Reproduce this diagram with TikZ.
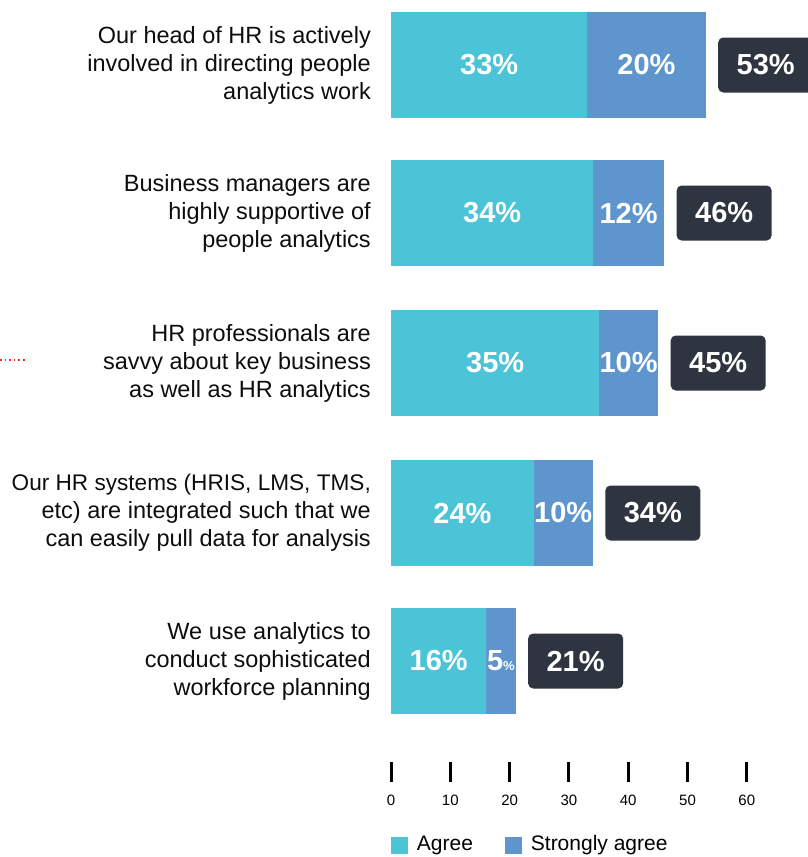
\documentclass[tikz,border=0pt]{standalone}
\usepackage{fontspec}
\setmainfont{Liberation Sans}
\usetikzlibrary{positioning}

\definecolor{agreecol}{RGB}{75,196,215}
\definecolor{strongcol}{RGB}{93,149,204}
\definecolor{totalcol}{RGB}{46,52,64}

\tikzset{
  bar/.style={inner sep=0pt, minimum height=106pt, text=white,
    align=center, font=\fontsize{29}{29}\selectfont\bfseries},
  totalbox/.style={fill=totalcol, rounded corners=5pt, inner sep=0pt,
    minimum width=95pt, minimum height=55pt, text=white,
    font=\fontsize{29}{29}\selectfont\bfseries},
  question/.style={inner sep=0pt, align=right, text=black!95,
    font=\fontsize{23.5}{28}\selectfont},
  legendsq/.style={inner sep=0pt, minimum size=17pt},
}

\begin{document}
\begin{tikzpicture}[x=1pt,y=-1pt]
\useasboundingbox (0,0) rectangle (807,857);

% bars
\foreach \i/\c/\a/\s/\at/\st/\q in {
 1/65/33/20/{33\%}/{20\%}/{Our head of HR is actively\\involved in directing people\\analytics work},
 2/213/34/12/{34\%}/{12\%}/{Business managers are\\highly supportive of\\people analytics},
 3/363/35/10/{35\%}/{10\%}/{HR professionals are\\savvy about key business\\as well as HR analytics},
 4/513/24/10/{24\%}/{10\%}/{\fontsize{22.6}{28}\selectfont Our HR systems (HRIS, LMS, TMS,\\etc) are integrated such that we\\can easily pull data for analysis},
 5/661/16/5/{16\%}/{5{\fontsize{13}{13}\selectfont\%}}/{We use analytics to\\conduct sophisticated\\workforce planning}} {
 \node[bar, fill=agreecol, anchor=west, text width=\a*5.94pt] (agree\i) at (391,\c) {\at};
 \node[bar, fill=strongcol, text width=\s*5.94pt, right=-0.6pt of agree\i] (strong\i) {\st};
 \pgfmathtruncatemacro{\tot}{\a+\s}
 \node[totalbox, right=12pt of strong\i] (total\i) {\tot\%};
 \node[question, left=20pt of agree\i] (quest\i) {\q};
}

\draw[red!85, line width=1.6pt, dash pattern=on 1.6pt off 3pt] (0,360) -- (27,360);

% axis
\foreach \k in {0,1,...,6} {
 \draw[line width=3pt] (391+59.3*\k,762) -- (391+59.3*\k,782);
 \node[font=\fontsize{15}{15}\selectfont] (tick\k) at (391+59.3*\k,800) {\the\numexpr\k*10\relax};
}

% legend
\node[legendsq, fill=agreecol] (agreesq) at (399,845) {};
\node[right=9pt of agreesq, inner sep=0pt, font=\fontsize{21}{21}\selectfont] (agreetxt) {Agree};
\node[legendsq, fill=strongcol] (strongsq) at (513,845) {};
\node[right=9pt of strongsq, inner sep=0pt, font=\fontsize{21}{21}\selectfont] (strongtxt) {Strongly agree};

\end{tikzpicture}
\end{document}
